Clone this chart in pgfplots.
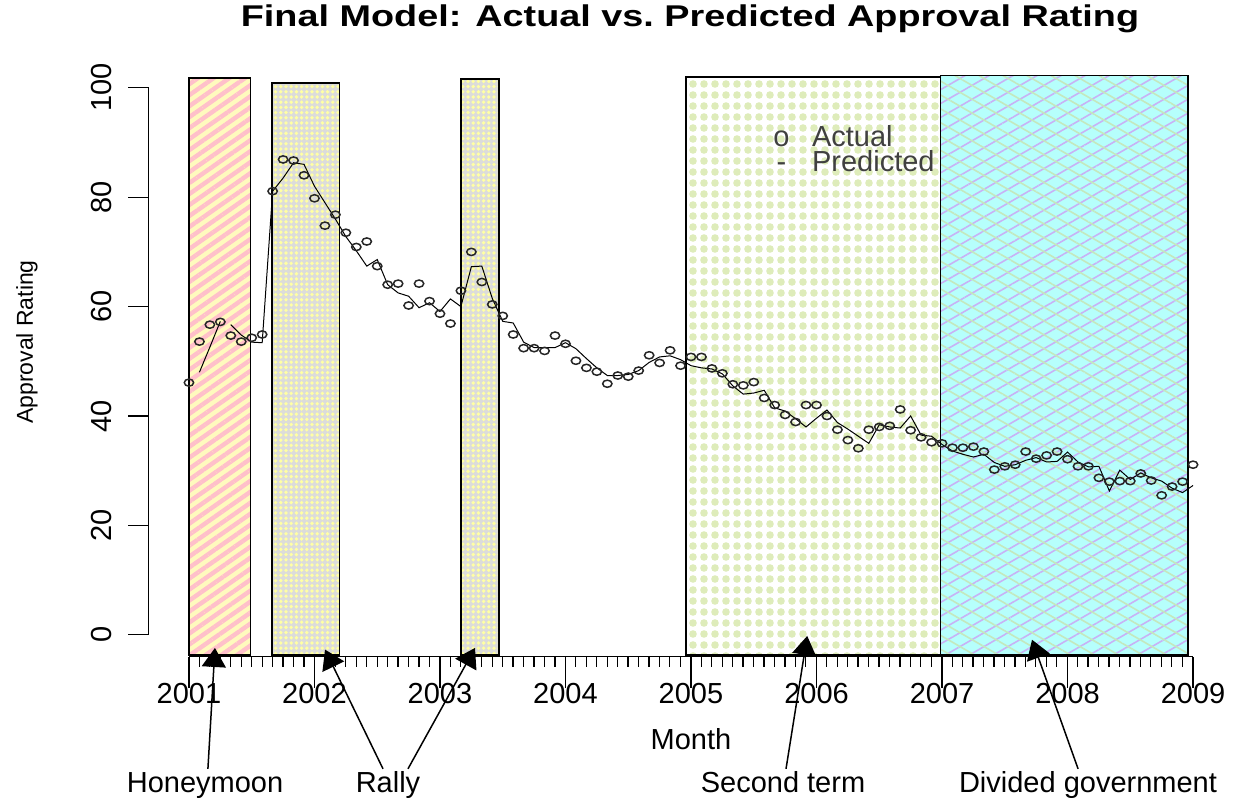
\documentclass[border=0pt]{standalone}
\usepackage{fontspec}
\setmainfont{Liberation Sans}
\usepackage{graphicx}
\usepackage{pgfplots}
\pgfplotsset{compat=1.18}
\usepackage{pgfplotstable}
\usetikzlibrary{patterns.meta,arrows.meta}

\definecolor{hmbase}{RGB}{255,250,190}
\definecolor{hmstripe}{RGB}{255,192,202}
\definecolor{rlbase}{RGB}{220,220,218}
\definecolor{rldot}{RGB}{255,255,165}
\definecolor{stdot}{RGB}{222,236,186}
\definecolor{dvbase}{RGB}{182,255,252}
\definecolor{dvline}{RGB}{200,178,245}
\definecolor{dvline2}{RGB}{196,232,190}

\newcommand{\fs}{\fontsize{14.5}{17}\selectfont}

\pgfplotstableread{
m v
0 46.1
1 53.6
2 56.7
3 57.2
4 54.7
5 53.6
6 54.3
7 54.9
8 81.1
9 86.9
10 86.7
11 84.0
12 79.8
13 74.8
14 76.8
15 73.5
16 70.9
17 71.9
18 67.4
19 64.0
20 64.2
21 60.2
22 64.2
23 61.0
24 58.7
25 56.9
26 62.9
27 70.0
28 64.5
29 60.4
30 58.3
31 54.9
32 52.4
33 52.4
34 51.9
35 54.7
36 53.2
37 50.1
38 48.8
39 48.1
40 45.9
41 47.4
42 47.2
43 48.3
44 51.1
45 49.7
46 52.0
47 49.2
48 50.8
49 50.8
50 48.7
51 47.8
52 45.8
53 45.6
54 46.2
55 43.3
56 42.0
57 40.2
58 38.9
59 42.0
60 42.0
61 40.0
62 37.5
63 35.6
64 34.1
65 37.5
66 38.0
67 38.2
68 41.2
69 37.4
70 36.1
71 35.2
72 35.0
73 34.2
74 34.2
75 34.4
76 33.5
77 30.2
78 30.8
79 31.1
80 33.5
81 32.2
82 32.8
83 33.5
84 32.1
85 30.8
86 30.8
87 28.7
88 28.0
89 28.1
90 28.1
91 29.5
92 28.2
93 25.5
94 27.1
95 28.0
96 31.1
}\actual

\pgfplotstableread{
m v
1 48.0
2 52.6
3 57.3
3.5 nan
4 56.7
5 54.8
6 53.5
7 53.4
8 81.1
9 83.5
10 86.3
11 86.0
12 82.0
13 79.0
14 76.0
15 72.8
16 70.2
17 67.4
18 68.6
19 64.0
20 62.5
21 61.9
22 59.8
23 60.7
24 59.1
25 61.4
26 60.0
27 67.3
28 67.4
29 61.5
30 57.3
31 57.0
32 53.5
33 52.5
34 52.5
35 52.5
36 53.4
37 52.3
38 50.5
39 48.8
40 47.4
41 47.4
42 47.6
43 48.3
44 49.8
45 50.8
46 51.0
47 50.3
48 49.2
49 48.8
50 48.6
51 47.7
52 45.5
53 44.0
54 44.2
55 44.7
56 41.5
57 40.9
58 39.5
59 38.0
60 39.6
61 41.1
62 38.8
63 37.6
64 36.3
65 35.0
66 38.4
67 38.0
68 37.8
69 40.0
70 36.5
71 36.3
72 34.8
73 33.6
74 33.0
75 32.5
76 33.0
77 31.5
78 30.8
79 31.1
80 31.9
81 32.4
82 31.6
83 31.7
84 33.4
85 31.6
86 30.7
87 30.8
88 26.3
89 30.1
90 28.4
91 29.6
92 28.7
93 28.1
94 26.8
95 26.0
96 27.3
}\predicted

\begin{document}
\begin{tikzpicture}[x=1pt,y=1pt]
\useasboundingbox (0,0) rectangle (625,399.5);
\begin{axis}[
  at={(74.4pt,71.15pt)}, anchor=south west,
  scale only axis, width=542.2pt, height=295.4pt,
  xmin=2000.68, xmax=2009.32, ymin=-4, ymax=104,
  clip=false,
  axis lines*=left, axis line style={draw=none},
  tick align=outside,
  xtick={2001,2002,2003,2004,2005,2006,2007,2008,2009},
  xticklabels={2001,2002,2003,2004,2005,2006,2007,2008,2009},
  minor xtick={2001.0833333,2001.1666667,...,2008.95},
  ytick={0,20,40,60,80,100},
  x tick style={line width=0.6pt, black, /pgfplots/major tick length=15.5pt, /pgfplots/minor tick length=5pt},
  y tick style={line width=0.6pt, black, /pgfplots/major tick length=10.4pt},
  tick label style={font=\fs, /pgf/number format/assume math mode=true},
  xticklabel style={anchor=north, inner sep=0pt},
  xticklabel shift=9pt,
  yticklabel style={rotate=90, anchor=south, inner sep=0pt},
  yticklabel shift=14pt,
  legend style={draw=none, fill=none, at={(axis cs:2005.653,93.2)}, anchor=north west,
    font=\fs, text=black!75, inner sep=0pt, row sep=1.2pt, column sep=11pt,
    nodes={inner sep=0.3pt, text height=10.5pt, text depth=0pt}},
  legend cell align=left,
]
% shaded periods
\addplot[forget plot, draw=none, fill=hmbase, postaction={pattern={Lines[angle=35,distance=4.5pt,line width=2.2pt]}, pattern color=hmstripe}]
  coordinates {(2001.0,-3.7) (2001.49,-3.7) (2001.49,101.8) (2001.0,101.8)} -- cycle;
\addplot[forget plot, draw=black, line width=0.7pt]
  coordinates {(2001.0,-3.7) (2001.49,-3.7) (2001.49,101.8) (2001.0,101.8)} -- cycle;
\addplot[forget plot, draw=none, fill=rlbase, postaction={pattern={Dots[distance=2.6pt,radius=0.95pt]}, pattern color=rldot}]
  coordinates {(2001.66,-3.7) (2002.20,-3.7) (2002.20,100.9) (2001.66,100.9)} -- cycle;
\addplot[forget plot, draw=black, line width=0.7pt]
  coordinates {(2001.66,-3.7) (2002.20,-3.7) (2002.20,100.9) (2001.66,100.9)} -- cycle;
\addplot[forget plot, draw=none, fill=rlbase, postaction={pattern={Dots[distance=2.6pt,radius=0.95pt]}, pattern color=rldot}]
  coordinates {(2003.167,-3.7) (2003.47,-3.7) (2003.47,101.6) (2003.167,101.6)} -- cycle;
\addplot[forget plot, draw=black, line width=0.7pt]
  coordinates {(2003.167,-3.7) (2003.47,-3.7) (2003.47,101.6) (2003.167,101.6)} -- cycle;
\addplot[forget plot, draw=none, fill=white, postaction={pattern={Dots[distance=5.5pt,radius=1.9pt]}, pattern color=stdot}]
  coordinates {(2004.96,-3.7) (2006.99,-3.7) (2006.99,102.0) (2004.96,102.0)} -- cycle;
\addplot[forget plot, draw=black, line width=0.7pt]
  coordinates {(2004.96,-3.7) (2006.99,-3.7) (2006.99,102.0) (2004.96,102.0)} -- cycle;
\addplot[forget plot, draw=none, fill=dvbase, postaction={pattern={Lines[angle=30,distance=6pt,line width=0.8pt]}, pattern color=dvline}, postaction={pattern={Lines[angle=-30,distance=6pt,line width=0.8pt]}, pattern color=dvline2}]
  coordinates {(2006.99,-3.7) (2008.96,-3.7) (2008.96,102.2) (2006.99,102.2)} -- cycle;
\addplot[forget plot, draw=black, line width=0.7pt]
  coordinates {(2006.99,-3.7) (2008.96,-3.7) (2008.96,102.2) (2006.99,102.2)} -- cycle;

% axis lines as in R (only over the tick range)
\draw[line width=0.6pt] (axis cs:2001,-4) -- (axis cs:2009,-4);
\draw[line width=0.6pt] (axis cs:2000.68,0) -- (axis cs:2000.68,100);

% data
\addplot[only marks, mark=o, mark size=1.8pt, mark options={xscale=1.3, line width=0.75pt, draw=black!85},
  legend image code/.code={\node[font=\fs, text=black!75, inner sep=0pt, text height=10.5pt, text depth=0pt, anchor=center] at (0,0) {o};}]
  table[x expr=2001+\thisrow{m}/12, y=v] {\actual};
\addlegendentry{Actual}
\addplot[black, line width=0.5pt, unbounded coords=jump,
  legend image code/.code={\node[font=\fs, text=black!75, inner sep=0pt, text height=10.5pt, text depth=0pt, anchor=center] at (0,0) {-};}]
  table[x expr=2001+\thisrow{m}/12, y=v] {\predicted};
\addlegendentry{Predicted}

% annotation arrows
\begin{scope}[line width=0.75pt, -{Triangle[width=12pt,length=9.5pt]}]
\draw (axis cs:2001.151,-24.5) -- (axis cs:2001.207,-2.4);
\draw (axis cs:2002.546,-24.5) -- (axis cs:2002.084,-2.7);
\draw (axis cs:2002.745,-24.5) -- (axis cs:2003.279,-2.4);
\draw (axis cs:2005.757,-24.5) -- (axis cs:2005.926,-0.2);
\draw (axis cs:2008.084,-24.5) -- (axis cs:2007.717,-0.9);
\end{scope}
\end{axis}

\node[font=\bfseries\fontsize{15}{18}\selectfont, anchor=base] at (345,386) {\scalebox{1.26}[1]{Final Model: Actual vs.\ Predicted Approval Rating}};
\node[font=\fs, anchor=base] at (345.5,24.5) {Month};
\node[font=\fontsize{11.5}{14}\selectfont, rotate=90, anchor=base] at (16.5,228.5) {Approval Rating};
\node[font=\fs, anchor=base] at (102.5,3) {Honeymoon};
\node[font=\fs, anchor=base] at (194,3) {Rally};
\node[font=\fs, anchor=base] at (391.5,3) {Second term};
\node[font=\fs, anchor=base] at (544,3) {Divided government};
\end{tikzpicture}
\end{document}
